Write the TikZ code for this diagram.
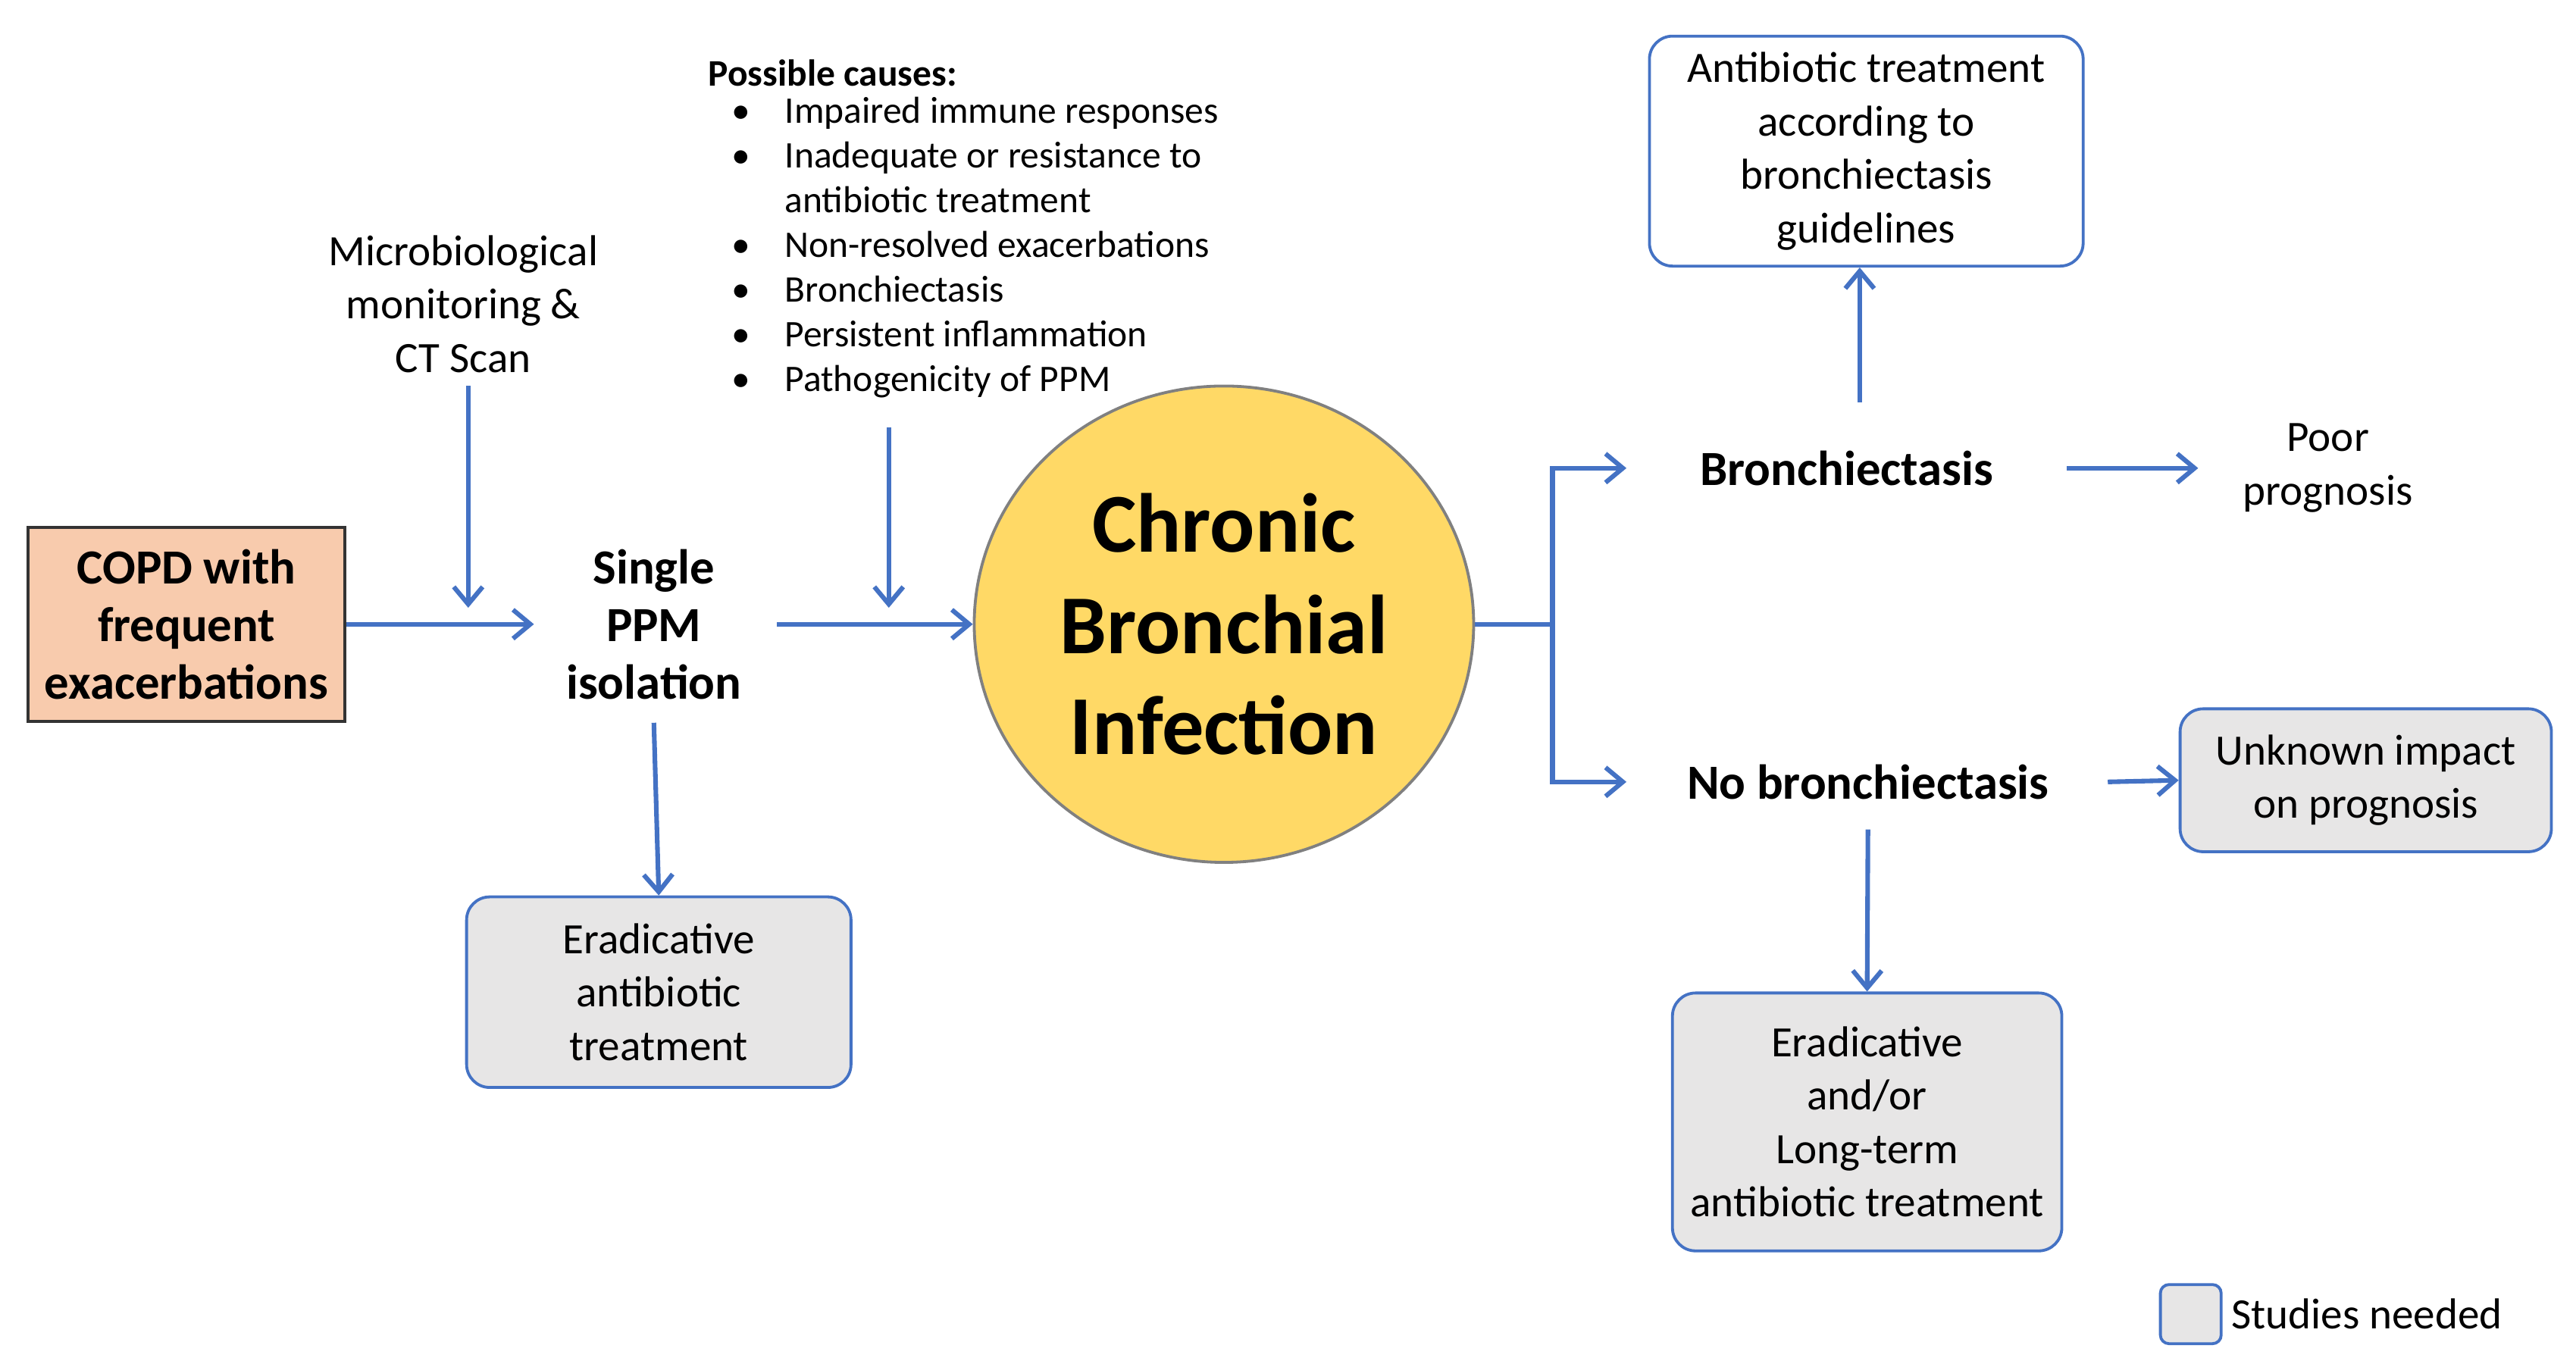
\documentclass[tikz,border=0pt]{standalone}
\usepackage{fontspec}
\setmainfont{Carlito}
\usetikzlibrary{arrows.meta,shapes.geometric}
\definecolor{bl}{HTML}{4472C4}
\definecolor{salmon}{HTML}{F8CBAD}
\definecolor{gold}{HTML}{FFD966}
\definecolor{grayf}{HTML}{E7E6E6}
\begin{document}
\begin{tikzpicture}[x=0.02cm,y=-0.02cm,
  arr/.style={draw=bl,line width=1.6pt,-{Straight Barb[length=6pt,width=10pt]}},
  txt/.style={align=center,font=\fontsize{15}{18.5}\selectfont},
  btxt/.style={align=center,font=\bfseries\fontsize{17}{20}\selectfont},
  gbox/.style={draw=bl,line width=1pt,fill=grayf,rounded corners=8pt,align=center,font=\fontsize{15}{18.5}\selectfont},
  wbox/.style={draw=bl,line width=1pt,fill=white,rounded corners=8pt,align=center,font=\fontsize{15}{18.5}\selectfont}]
\useasboundingbox (0,0) rectangle (1568,830);
\node[draw=black!80,line width=1pt,fill=salmon,minimum width=193*0.02cm,minimum height=118*0.02cm,align=center,font=\bfseries\fontsize{17}{20}\selectfont] (copd) at (113.5,380) {COPD with\\frequent\\exacerbations};
\node[txt] (micro) at (282,185) {Microbiological\\monitoring \&\\CT Scan};
\node[btxt] (ppm) at (398,380) {Single\\PPM\\isolation};
\node[align=left,anchor=north west,font=\fontsize{13}{15.5}\selectfont] (causes) at (425,30) {\textbf{Possible causes:}\\[1pt]
\begin{tabular}{@{\hspace{8pt}}l@{\hspace{12pt}}l@{}}
\textbullet & Impaired immune responses\\
\textbullet & Inadequate or resistance to\\
 & antibiotic treatment\\
\textbullet & Non-resolved exacerbations\\
\textbullet & Bronchiectasis\\
\textbullet & Persistent inflammation\\
\textbullet & Pathogenicity of PPM
\end{tabular}};
\node[ellipse,draw=black!50,line width=1pt,fill=gold,minimum width=304*0.02cm,minimum height=290*0.02cm,align=center,font=\bfseries\fontsize{29}{35}\selectfont] (cbi) at (745,380) {Chronic\\Bronchial\\Infection};
\node[gbox,minimum width=234*0.02cm,minimum height=116*0.02cm] (erad) at (401,604) {Eradicative\\antibiotic\\treatment};
\node[btxt] (bron) at (1124,285) {Bronchiectasis};
\node[wbox,minimum width=264*0.02cm,minimum height=140*0.02cm] (guide) at (1136,92) {Antibiotic treatment\\according to\\bronchiectasis\\guidelines};
\node[txt] (poor) at (1417,285) {Poor\\prognosis};
\node[btxt] (nobron) at (1137,476) {No bronchiectasis};
\node[gbox,minimum width=226*0.02cm,minimum height=87*0.02cm] (unk) at (1440,475) {Unknown impact\\on prognosis};
\node[gbox,minimum width=237*0.02cm,minimum height=157*0.02cm] (long) at (1136.5,683) {Eradicative\\and/or\\Long-term\\antibiotic treatment};
\node[draw=bl,line width=1pt,fill=grayf,rounded corners=3pt,minimum width=37*0.02cm,minimum height=36*0.02cm] (leg) at (1333.5,800) {};
\node[anchor=west,font=\fontsize{15}{18}\selectfont] (legt) at (1352,800) {Studies needed};
\coordinate (m1) at (285,235); \coordinate (m2) at (285,370);
\coordinate (c1) at (541,260); \coordinate (c2) at (541,370);
\coordinate (j) at (945,380);
\draw[arr] (copd.east) -- (325,380);
\draw[arr] (m1) -- (m2);
\draw[arr] (473,380) -- (cbi.west);
\draw[arr] (c1) -- (c2);
\draw[arr] (398,440) -- (erad.north);
\draw[draw=bl,line width=1.6pt] (cbi.east) -- (j);
\draw[arr] (j) |- (990,285);
\draw[arr] (j) |- (990,476);
\draw[arr] (1132,245) -- (guide.south -| 1132,0);
\draw[arr] (1258,285) -- (1338,285);
\draw[arr] (1283,476) -- (unk.west);
\draw[arr] (1137,505) -- (long.north);
\end{tikzpicture}
\end{document}
